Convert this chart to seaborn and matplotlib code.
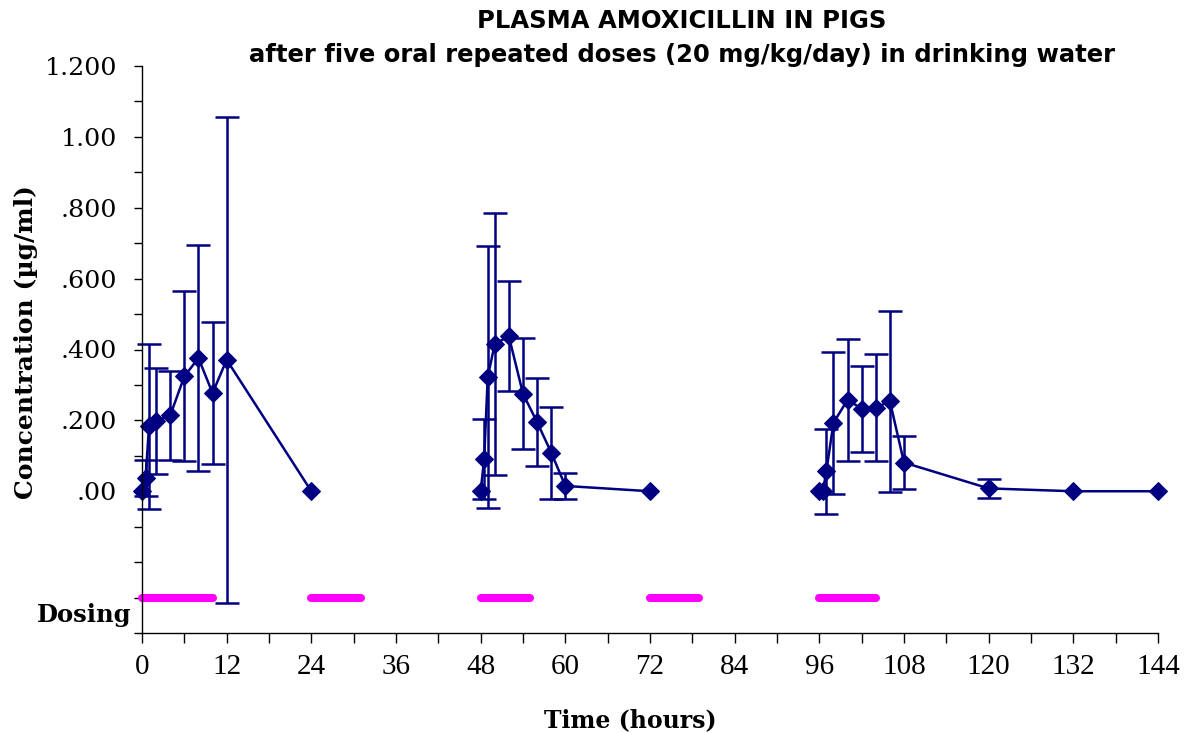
import numpy as np
import pandas as pd
import matplotlib
matplotlib.use("Agg")
import matplotlib.pyplot as plt
import seaborn as sns
from matplotlib.ticker import MultipleLocator, FixedLocator

# ---- data ----
time_h = [0, 0.5, 1, 2, 4, 6, 8, 10, 12, 24,
          48, 48.5, 49, 50, 52, 54, 56, 58, 60, 72,
          96, 96.5, 97, 98, 100, 102, 104, 106, 108, 120, 132, 144]
conc = [0.0, 0.037, 0.183, 0.198, 0.214, 0.324, 0.376, 0.277, 0.371, 0.0,
        0.0, 0.092, 0.322, 0.416, 0.437, 0.275, 0.195, 0.109, 0.015, 0.0,
        0.0, 0.0, 0.057, 0.193, 0.258, 0.233, 0.236, 0.254, 0.081, 0.008, 0.0, 0.0]
sd = [np.nan, 0.05, 0.233, 0.15, 0.126, 0.24, 0.32, 0.2, 0.686, np.nan,
      np.nan, 0.113, 0.37, 0.37, 0.155, 0.157, 0.124, 0.13, 0.037, np.nan,
      np.nan, np.nan, 0.12, 0.2, 0.173, 0.121, 0.151, 0.256, 0.074, 0.027, np.nan, np.nan]
segment = [1] * 10 + [3] * 10 + [5] * 12

dose_start = [0, 24, 48, 72, 96]
dose_end = [10, 31, 55, 79, 104]
dose_level = -0.30

ytick_vals = [0.0, 0.2, 0.4, 0.6, 0.8, 1.0, 1.2]
ytick_labels = [".00", ".200", ".400", ".600", ".800", "1.00", "1.200"]
xtick_vals = list(range(0, 145, 12))

df = pd.DataFrame({"time": time_h, "conc": conc, "sd": sd, "segment": segment})

sns.set_theme(style="white")
plt.rcParams["font.family"] = ["DejaVu Serif", "DejaVu Sans"]
plt.rcParams["text.color"] = "black"
plt.rcParams["axes.labelcolor"] = "black"
plt.rcParams["xtick.color"] = "black"
plt.rcParams["ytick.color"] = "black"

navy = "#000080"
fig = plt.figure(figsize=(11.84, 7.33), dpi=100)
ax = fig.add_axes([142 / 1184, 1 - 633 / 733, (1158 - 142) / 1184, (633 - 66) / 733])

# dosing bars
for s, e in zip(dose_start, dose_end):
    ax.plot([s, e], [dose_level, dose_level], color="#FF00FF", lw=5.8,
            solid_capstyle="round", clip_on=False)

# error bars
ax.errorbar(df["time"], df["conc"], yerr=df["sd"], fmt="none", ecolor=navy,
            elinewidth=1.8, capsize=8.5, capthick=1.8, clip_on=False)

# lines + markers
sns.lineplot(data=df, x="time", y="conc", units="segment", estimator=None,
             color=navy, marker="D", markersize=9, markeredgecolor=navy,
             lw=1.8, ax=ax, clip_on=False, legend=False)

ax.set_xlim(0, 144)
ax.set_ylim(-0.4, 1.2)
for sp in ["top", "right"]:
    ax.spines[sp].set_visible(False)
for sp in ["left", "bottom"]:
    ax.spines[sp].set_color("black")
    ax.spines[sp].set_linewidth(1.0)

ax.yaxis.set_major_locator(FixedLocator(ytick_vals + [-0.2, -0.4]))
ax.set_yticklabels(ytick_labels + ["", ""])
ax.yaxis.set_minor_locator(MultipleLocator(0.1))
ax.xaxis.set_major_locator(FixedLocator(xtick_vals))
ax.set_xticklabels([str(v) for v in xtick_vals])
ax.xaxis.set_minor_locator(MultipleLocator(6))

ax.tick_params(axis="y", which="both", direction="out", length=6, width=1,
               color="black", left=True, labelsize=18.3, pad=12)
ax.tick_params(axis="x", which="both", direction="out", length=7, width=1,
               color="black", bottom=True, labelsize=21, pad=8)
for lab in ax.get_xticklabels():
    lab.set_fontfamily("Liberation Serif")

ax.set_xlabel("Time (hours)", fontsize=17, fontweight="bold")
ax.xaxis.set_label_coords((630 - 142) / 1016, -(720 - 633) / 567, transform=ax.transAxes)
ax.xaxis.label.set_va("center")
ax.set_ylabel("Concentration (\u00b5g/ml)", fontsize=18, fontweight="bold")
ax.yaxis.set_label_coords(-(142 - 26) / 1016, (633 - 342) / 567, transform=ax.transAxes)
ax.yaxis.label.set_va("center")
ax.text(-0.01, -0.35, "Dosing", transform=ax.get_yaxis_transform(),
        ha="right", va="center", fontsize=17.5, fontweight="bold")

fig.text(682 / 1184, 1 - 21 / 733, "PLASMA AMOXICILLIN IN PIGS", ha="center",
         va="center", fontsize=17.5, fontweight="bold", family="DejaVu Sans")
fig.text(682 / 1184, 1 - 55 / 733,
         "after five oral repeated doses (20 mg/kg/day) in drinking water",
         ha="center", va="center", fontsize=17.5, fontweight="bold", family="DejaVu Sans")

fig.savefig("out.png", dpi=100)
